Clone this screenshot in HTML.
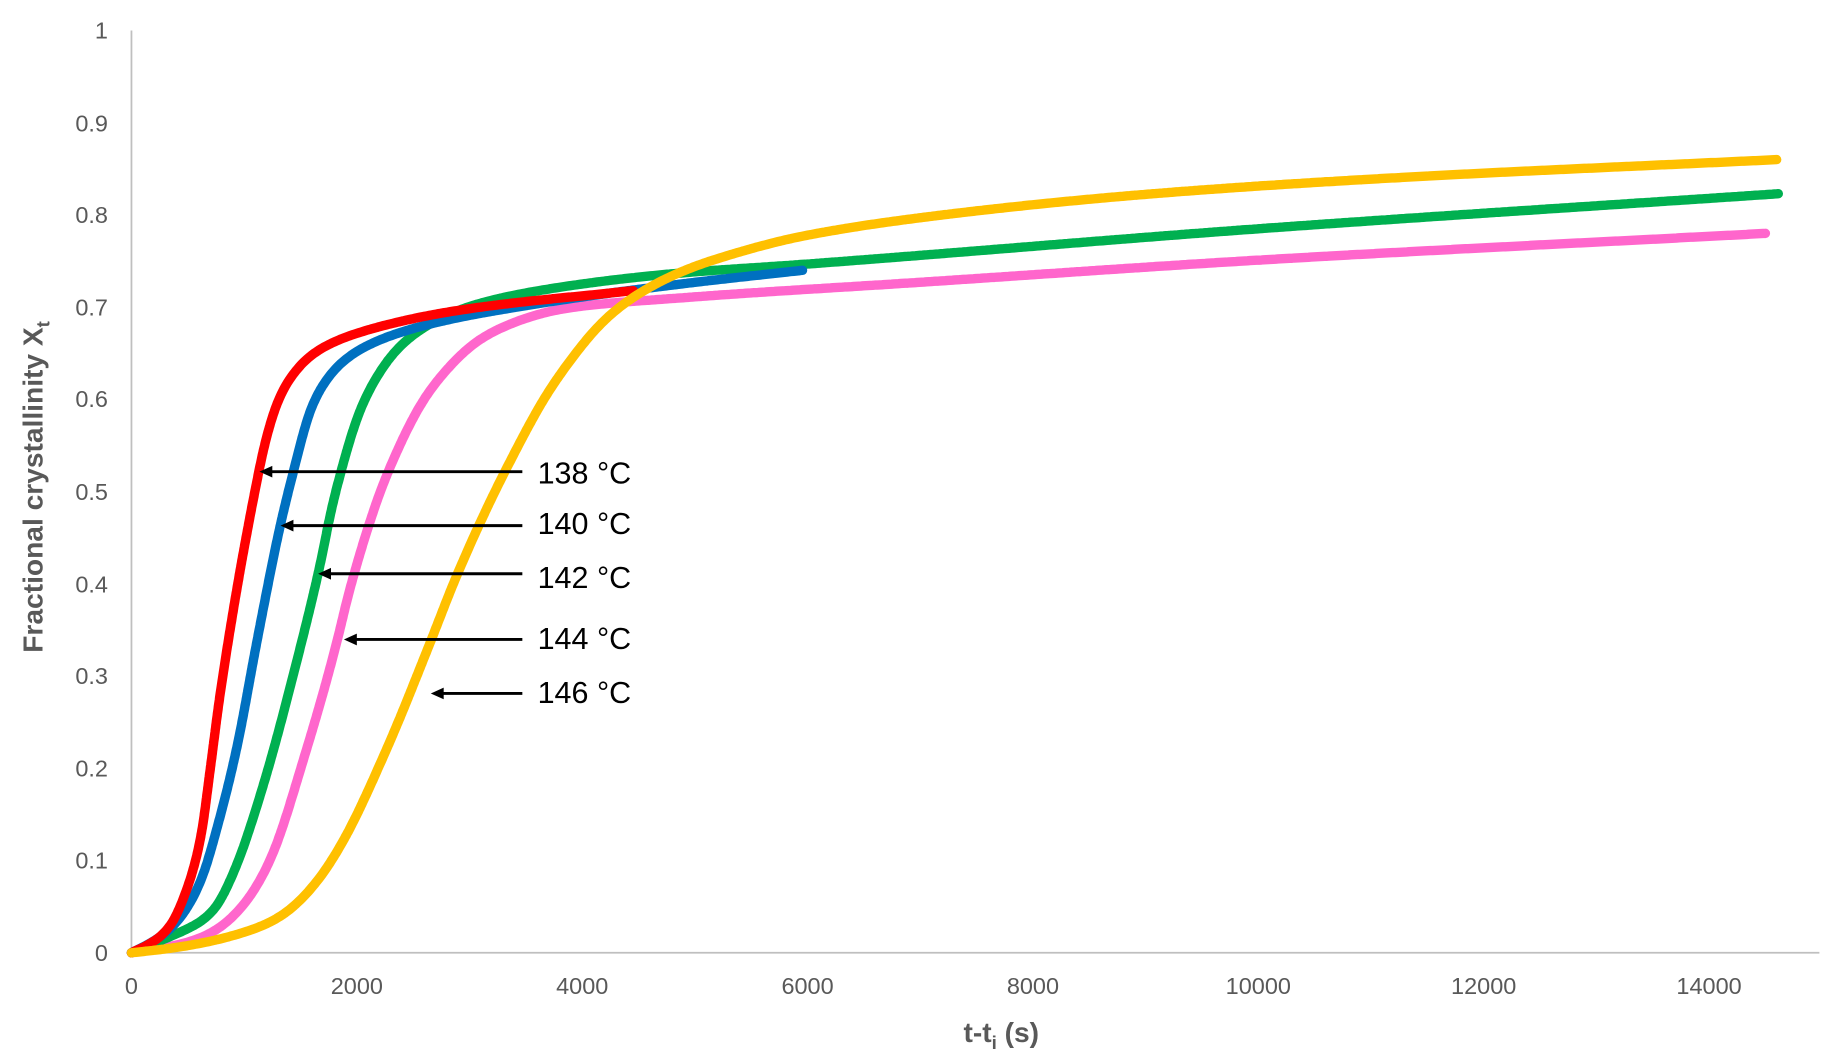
<!DOCTYPE html>
<html><head><meta charset="utf-8"><style>
html,body{margin:0;padding:0;background:#fff;}
svg{display:block;}
text{font-family:"Liberation Sans",Arial,sans-serif;}
</style></head><body>
<svg id="c" width="1837" height="1056" viewBox="0 0 1565 900" preserveAspectRatio="none" xmlns="http://www.w3.org/2000/svg">
<rect width="1565" height="900" fill="#fff"/>
<g stroke="#bfbfbf" stroke-width="1.5">
<line x1="112" y1="26" x2="112" y2="812"/>
<line x1="112" y1="812" x2="1550" y2="812"/>
</g>
<g fill="#595959" font-size="20" text-anchor="end">
<text x="92" y="819">0</text><text x="92" y="740">0.1</text><text x="92" y="662">0.2</text>
<text x="92" y="583">0.3</text><text x="92" y="505">0.4</text><text x="92" y="426">0.5</text>
<text x="92" y="347">0.6</text><text x="92" y="269">0.7</text><text x="92" y="190">0.8</text>
<text x="92" y="112">0.9</text><text x="92" y="33">1</text>
</g>
<g fill="#595959" font-size="20" text-anchor="middle">
<text x="112" y="847">0</text><text x="304" y="847">2000</text><text x="496" y="847">4000</text>
<text x="688" y="847">6000</text><text x="880" y="847">8000</text><text x="1072" y="847">10000</text>
<text x="1264" y="847">12000</text><text x="1456" y="847">14000</text>
</g>
<text x="853" y="888" fill="#595959" font-size="24" font-weight="bold" text-anchor="middle">t-t<tspan font-size="16" dy="6">i</tspan><tspan dy="-6"> (s)</tspan></text>
<text transform="translate(36,415) rotate(-90)" fill="#595959" font-size="24" font-weight="bold" text-anchor="middle">Fractional crystallinity X<tspan font-size="16" dy="6">t</tspan></text>
<g id="curves" fill="none" stroke-width="8" stroke-linecap="round" stroke-linejoin="round"></g>
<g stroke="#000" stroke-width="2.5">
<line x1="445" y1="402" x2="230" y2="402"/>
<line x1="445" y1="448" x2="248" y2="448"/>
<line x1="445" y1="489" x2="280" y2="489"/>
<line x1="445" y1="545" x2="302" y2="545"/>
<line x1="445" y1="591" x2="376" y2="591"/>
</g>
<g fill="#000">
<polygon points="221,402 232,397 232,407"/>
<polygon points="239,448 250,443 250,453"/>
<polygon points="271,489 282,484 282,494"/>
<polygon points="293,545 304,540 304,550"/>
<polygon points="367,591 378,586 378,596"/>
</g>
<g fill="#000" font-size="26">
<text x="458" y="412">138 °C</text><text x="458" y="455">140 °C</text>
<text x="458" y="501">142 °C</text><text x="458" y="553">144 °C</text>
<text x="458" y="599">146 °C</text>
</g>
</svg>
<script>
(function(){
var g=document.getElementById('curves');
function px(t){return 112+t/2000*192;}
function py(x){return 812-x*786;}
var series=[
 {c:'#FF66CC',p:[[0,0],[400,0.008],[697,0.02],[950,0.045],[1200,0.092],[1555,0.221],[1821,0.336],[1939,0.395],[2279,0.522],[2679,0.615],[3181,0.672],[3862,0.699],[4868,0.710],[7000,0.727],[10000,0.751],[14500,0.780]]},
 {c:'#00B050',p:[[0,0],[350,0.018],[697,0.04],[900,0.085],[1141,0.17],[1496,0.33],[1673,0.42],[1792,0.49],[2088,0.605],[2443,0.665],[2975,0.70],[3715,0.72],[4868,0.737],[5912,0.746],[10000,0.785],[14615,0.823]]},
 {c:'#0070C0',p:[[0,0],[300,0.02],[450,0.04],[608,0.075],[770,0.14],[933,0.221],[1111,0.336],[1318,0.462],[1392,0.50],[1644,0.605],[1939,0.648],[2531,0.678],[3566,0.703],[4868,0.725],[5955,0.740]]},
 {c:'#FF0000',p:[[0,0],[300,0.02],[450,0.055],[608,0.12],[700,0.2],[786,0.28],[1111,0.51],[1200,0.56],[1348,0.612],[1644,0.653],[2235,0.68],[2975,0.698],[4453,0.718]]},
 {c:'#FFC000',p:[[0,0],[300,0.004],[608,0.01],[1000,0.022],[1300,0.037],[1600,0.07],[1851,0.115],[2265,0.221],[2650,0.336],[2886,0.409],[3315,0.522],[3774,0.622],[4306,0.698],[4868,0.738],[5400,0.76],[5912,0.776],[7000,0.797],[9065,0.823],[11173,0.84],[14600,0.86]]}
];
function mono(P){
 var n=P.length,dx=[],s=[],m=[];
 for(var i=0;i<n-1;i++){dx[i]=P[i+1][0]-P[i][0];s[i]=(P[i+1][1]-P[i][1])/dx[i];}
 m[0]=s[0];m[n-1]=s[n-2];
 for(i=1;i<n-1;i++){
  if(s[i-1]*s[i]<=0)m[i]=0;
  else{var w1=2*dx[i]+dx[i-1],w2=dx[i]+2*dx[i-1];m[i]=(w1+w2)/(w1/s[i-1]+w2/s[i]);}
 }
 return function(t){
  var i=0;while(i<n-2&&t>P[i+1][0])i++;
  var h=dx[i],u=(t-P[i][0])/h,u2=u*u,u3=u2*u;
  return (2*u3-3*u2+1)*P[i][1]+(u3-2*u2+u)*h*m[i]+(-2*u3+3*u2)*P[i+1][1]+(u3-u2)*h*m[i+1];
 };
}
series.forEach(function(o){
 var f=mono(o.p),end=o.p[o.p.length-1][0],pts=[];
 for(var t=0;t<end;t+=5)pts.push([px(t),py(f(t))]);
 pts.push([px(end),py(f(end))]);
 var rs=[pts[0]],acc=0;
 for(var i=1;i<pts.length;i++){
  var a=pts[i-1],b=pts[i],L=Math.hypot(b[0]-a[0],b[1]-a[1]);
  var pos=0;
  while(acc+L-pos>=1){var need=1-acc;pos+=need;acc=0;var u=pos/L;rs.push([a[0]+(b[0]-a[0])*u,a[1]+(b[1]-a[1])*u]);}
  acc+=L-pos;
 }
 rs.push(pts[pts.length-1]);
 var W=18,out=[];
 for(i=0;i<rs.length;i++){
  var w=Math.min(W,i,rs.length-1-i),sx=0,sy=0,c=0;
  for(var j=i-w;j<=i+w;j++){sx+=rs[j][0];sy+=rs[j][1];c++;}
  out.push([sx/c,sy/c]);
 }
 var d='';
 for(i=0;i<out.length;i+=2)d+=(d?'L':'M')+out[i][0].toFixed(1)+','+out[i][1].toFixed(1);
 var l=out[out.length-1];d+='L'+l[0].toFixed(1)+','+l[1].toFixed(1);
 var p=document.createElementNS('http://www.w3.org/2000/svg','path');
 p.setAttribute('d',d);p.setAttribute('stroke',o.c);
 g.appendChild(p);
});
})();
</script>
</body></html>
